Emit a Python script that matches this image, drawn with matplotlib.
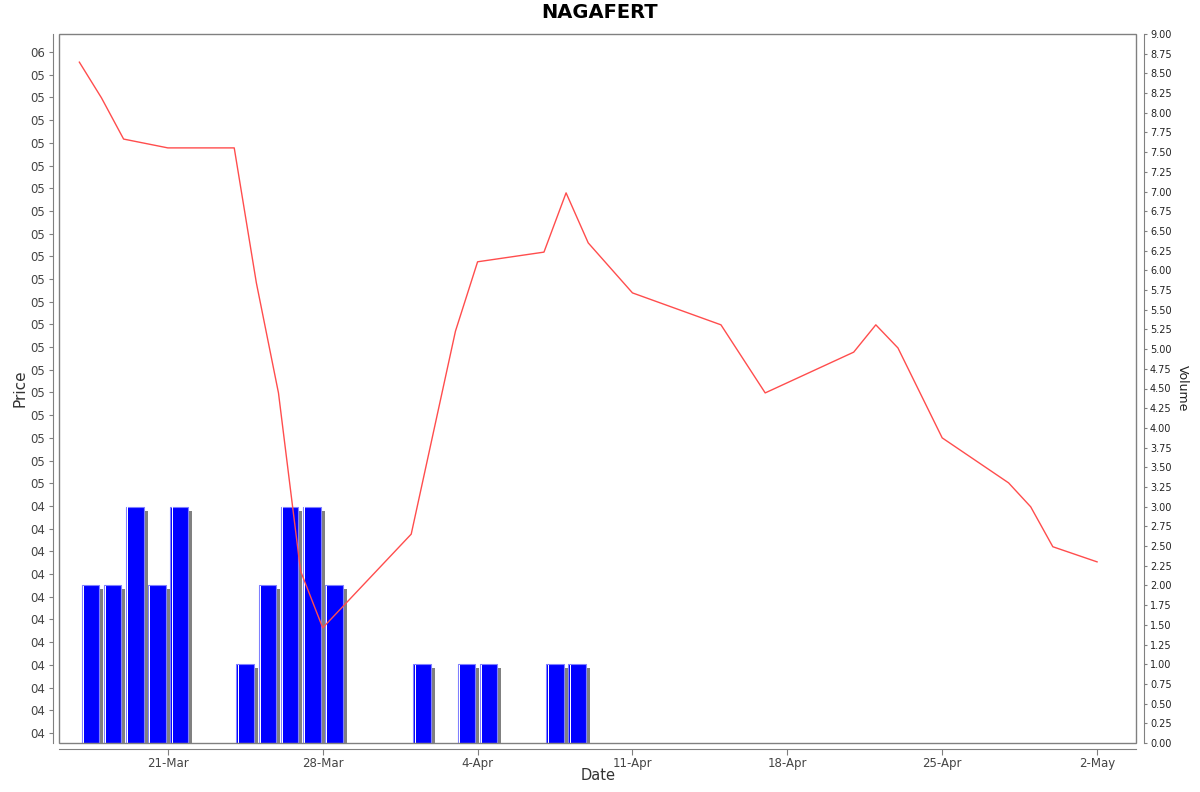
import matplotlib
matplotlib.use("Agg")
import matplotlib.pyplot as plt
import matplotlib.dates as mdates
import matplotlib.transforms as mtransforms
from matplotlib.patches import Rectangle
from matplotlib.ticker import FixedLocator, FixedFormatter, FuncFormatter
import datetime as dt

plt.rcParams['font.family'] = ['DejaVu Sans']

title = "NAGAFERT"

price_dates = ["2022-03-17", "2022-03-18", "2022-03-19", "2022-03-21", "2022-03-24",
               "2022-03-25", "2022-03-26", "2022-03-27", "2022-03-28", "2022-04-01",
               "2022-04-03", "2022-04-04", "2022-04-07", "2022-04-08", "2022-04-09",
               "2022-04-11", "2022-04-15", "2022-04-16", "2022-04-17", "2022-04-21",
               "2022-04-22", "2022-04-23", "2022-04-25", "2022-04-28", "2022-04-29",
               "2022-04-30", "2022-05-02"]
prices = [0.06012, 0.05927, 0.05829, 0.05808, 0.05808,
          0.05487, 0.05225, 0.04801, 0.04666, 0.04889,
          0.05372, 0.05537, 0.05560, 0.05701, 0.05582,
          0.05463, 0.05387, 0.05306, 0.05225, 0.05322,
          0.05387, 0.05332, 0.05118, 0.05011, 0.04954,
          0.04859, 0.04823]

volume_dates = ["2022-03-17", "2022-03-18", "2022-03-19", "2022-03-20", "2022-03-21",
                "2022-03-24", "2022-03-25", "2022-03-26", "2022-03-27", "2022-03-28",
                "2022-04-01", "2022-04-03", "2022-04-04", "2022-04-07", "2022-04-08"]
volumes = [2, 2, 3, 2, 3,
           1, 2, 3, 3, 2,
           1, 1, 1, 1, 1]

price_ticks = [0.04416 + i * 0.00054 for i in range(31)]
price_tick_labels = ["04"] * 11 + ["05"] * 19 + ["06"]
volume_ticks = [i * 0.25 for i in range(37)]
date_ticks = ["2022-03-21", "2022-03-28", "2022-04-04", "2022-04-11",
              "2022-04-18", "2022-04-25", "2022-05-02"]

def to_num(s):
    return mdates.date2num(dt.datetime.strptime(s, "%Y-%m-%d"))

px = [to_num(d) for d in price_dates]
vx = [to_num(d) + 0.5 for d in volume_dates]

W, H = 1200, 792
fig = plt.figure(figsize=(12, 7.92), dpi=100)
ax = fig.add_axes([59 / W, 49 / H, (1136 - 59) / W, (743 - 34) / H])
ax2 = ax.twinx()

grey = "#808080"
tick_col = "#444444"

# volume bars on ax (right axis)
shadow = mtransforms.offset_copy(ax.transData, fig=fig, x=4, y=-4, units='dots')
ax.bar(vx, volumes, width=0.8, color="#808080", edgecolor="none", transform=shadow, zorder=1)
ax.bar(vx, volumes, width=0.8, color="#0000ff", edgecolor="#8080ff", linewidth=0.8, zorder=2)
hl = mtransforms.offset_copy(ax.transData, fig=fig, x=1.5, y=0, units='dots')
ax.bar([v - 0.4 for v in vx], [v - 0.01 for v in volumes], width=0.045, align='edge',
       color="white", edgecolor="none", transform=hl, zorder=3)

ax.set_ylim(0, 9)
ax.yaxis.tick_right()
ax.yaxis.set_major_locator(FixedLocator(volume_ticks))
ax.yaxis.set_major_formatter(FuncFormatter(lambda v, p: f"{v:.2f}"))

# price line on ax2 (left axis)
ax2.plot(px, prices, color="#ff4d4d", linewidth=1.0, zorder=5)
ax2.set_ylim(0.04392, 0.06079)
ax2.yaxis.tick_left()
ax2.yaxis.set_major_locator(FixedLocator(price_ticks))
ax2.yaxis.set_major_formatter(FixedFormatter(price_tick_labels))

# x axis
ax.set_xlim(to_num("2022-03-16") + 0.08, to_num("2022-05-03") + 0.76)
ax.xaxis.set_major_locator(FixedLocator([to_num(d) for d in date_ticks]))
ax.xaxis.set_major_formatter(FuncFormatter(
    lambda v, p: f"{mdates.num2date(v).day}-{mdates.num2date(v).strftime('%b')}"))

for a in (ax, ax2):
    for s in a.spines.values():
        s.set_visible(False)

ax.spines['bottom'].set_visible(True)
ax.spines['bottom'].set_position(('outward', 4))
ax.spines['bottom'].set_color(grey)
ax.spines['right'].set_visible(True)
ax.spines['right'].set_position(('outward', 6))
ax.spines['right'].set_color(grey)
ax2.spines['left'].set_visible(True)
ax2.spines['left'].set_position(('outward', 4))
ax2.spines['left'].set_color(grey)

ax.add_patch(Rectangle((0, 0), 1, 1, transform=ax.transAxes, fill=False,
                       edgecolor=grey, linewidth=1.0, zorder=10, clip_on=False))

ax.tick_params(axis='x', length=4, color=grey, labelsize=8.5, labelcolor=tick_col, pad=2)
ax.tick_params(axis='y', length=2, color=grey, labelsize=7, labelcolor="#222222", pad=2)
ax2.tick_params(axis='y', length=3, color=grey, labelsize=8.5, labelcolor=tick_col, pad=3)

# axis labels and title
fig.text(20 / W, 1 - 388 / H, "Price", rotation=90, fontsize=11, color="#333333",
         ha='center', va='center')
fig.text(1182 / W, 1 - 388 / H, "Volume", rotation=-90, fontsize=9, color="#222222",
         ha='center', va='center')
fig.text(598 / W, 1 - 776 / H, "Date", fontsize=10.5, color="#333333",
         ha='center', va='center')
fig.text(600 / W, 1 - 13 / H, title, fontsize=14, fontweight='bold', color="black",
         ha='center', va='center')

fig.savefig("out.png", dpi=100)
